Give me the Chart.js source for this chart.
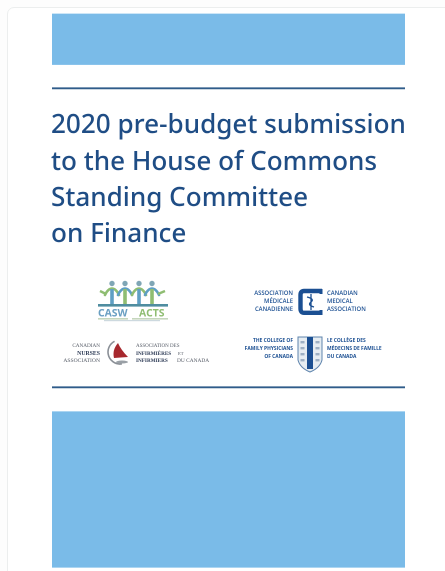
<!DOCTYPE html>
<html>
<head>
<meta charset="utf-8">
<style>
html,body{margin:0;padding:0;background:#fdfdfd;width:445px;height:571px;overflow:hidden}
#card{position:absolute;left:7px;top:7px;width:470px;height:600px;background:#fff;border:1.5px solid #eceeee;border-radius:7px;box-sizing:border-box}
#wrap{position:absolute;left:0;top:0;width:445px;height:571px}
canvas{filter:blur(0.45px)}
</style>
<script src="https://cdn.jsdelivr.net/npm/chart.js@4"></script>
</head>
<body>
<div id="card"></div>
<div id="wrap"><canvas id="c" width="445" height="571"></canvas></div>
<script>
const categories = ['Cover'];
const segmentNames = ['Top margin','Top band','Upper gap','Upper rule','Title and logos','Lower rule','Lower gap','Bottom band','Bottom margin'];
const segmentHeights = [14, 50.5, 23.2, 1.2, 297.8, 1.2, 23.8, 155.6, 3.7];
const segmentKinds = ['gap','band','gap','rule','gap','rule','gap','band','gap'];
const titleLines = ['2020 pre-budget submission','to the House of Commons','Standing Committee','on Finance'];
const cmaFr = ['ASSOCIATION','MÉDICALE','CANADIENNE'];
const cmaEn = ['CANADIAN','MEDICAL','ASSOCIATION'];
const cnaEn = ['CANADIAN','NURSES','ASSOCIATION'];
const cnaFr = ['ASSOCIATION DES','INFIRMIÈRES','INFIRMIERS'];
const cnaFrLight = ['ET','DU CANADA'];
const cfpcEn = ['THE COLLEGE OF','FAMILY PHYSICIANS','OF CANADA'];
const cfpcFr = ['LE COLLÈGE DES','MÉDECINS DE FAMILLE','DU CANADA'];
const caswLabels = ['CASW','ACTS'];
const colours = {band:'#7abbe8', rule:'#2f5c8a', gap:'rgba(0,0,0,0)'};

function textBlock(ctx, lines, x, ys, align, font, colour){
  ctx.textAlign = align; ctx.textBaseline = 'alphabetic';
  ctx.font = font; ctx.fillStyle = colour;
  lines.forEach((t,i)=>ctx.fillText(t,x,ys[i]));
}
function person(ctx,x,col,armCol){
  ctx.fillStyle = '#7fa6b5';
  ctx.beginPath(); ctx.arc(x,283.5,2.7,0,Math.PI*2); ctx.fill();
  ctx.strokeStyle = armCol; ctx.lineWidth = 2.6; ctx.lineCap='round';
  ctx.beginPath(); ctx.moveTo(x-7,295); ctx.quadraticCurveTo(x-4,288.5,x,288.5); ctx.quadraticCurveTo(x+4,288.5,x+7,295); ctx.stroke();
  ctx.strokeStyle = col; ctx.lineWidth = 3.6; ctx.lineCap='butt';
  ctx.beginPath(); ctx.moveTo(x,289); ctx.lineTo(x,304); ctx.stroke();
}
const coverArt = {
  id:'coverArt',
  afterDraw(chart){
    const ctx = chart.ctx; ctx.save();
    textBlock(ctx,titleLines,51,[133,170,206,242],'left','500 26.1px "Noto Sans"','#1f4d85');
    // CASW
    person(ctx,112,'#5f9fc4','#8fbd72'); person(ctx,125,'#8fbd72','#5f9fc4'); person(ctx,139,'#5f9fc4','#8fbd72'); person(ctx,152,'#8fbd72','#5f9fc4');
    ctx.strokeStyle='#8fbd72'; ctx.lineWidth=2.4;
    ctx.beginPath(); ctx.moveTo(100,291); ctx.lineTo(106,294); ctx.moveTo(165,291); ctx.lineTo(158,294); ctx.stroke();
    ctx.fillStyle='#4f8da0'; ctx.fillRect(98,304,70,2.6);
    textBlock(ctx,[caswLabels[0]],98,[316.5],'left','700 10.4px "Open Sans"','#6a9fc2');
    textBlock(ctx,[caswLabels[1]],139,[316.5],'left','700 10.4px "Open Sans"','#8fbd72');
    ctx.fillStyle='#c5d6bd'; ctx.fillRect(98,318,30,1.6); ctx.fillRect(132,318,36,1.6);
    ctx.fillStyle='#cdd9df'; ctx.fillRect(104,320,56,1.2);
    // CMA
    const navy='#1b4f92';
    textBlock(ctx,cmaFr,293,[295,303,311],'right','600 5.9px "Open Sans"',navy);
    textBlock(ctx,cmaEn,327,[295,303,311],'left','600 5.9px "Open Sans"',navy);
    ctx.strokeStyle=navy; ctx.lineWidth=4.4; ctx.lineCap='butt';
    ctx.beginPath(); ctx.moveTo(322,291); ctx.lineTo(304,291); ctx.quadraticCurveTo(300.5,291,300.5,295); ctx.lineTo(300.5,308.5);
    ctx.quadraticCurveTo(300.5,312.8,304,312.8); ctx.lineTo(322,312.8); ctx.stroke();
    ctx.fillStyle=navy; ctx.fillRect(319.5,289,3,5); ctx.fillRect(319.5,310,3,5);
    ctx.lineWidth=1.3;
    ctx.beginPath(); ctx.moveTo(311,294); ctx.lineTo(311,310); ctx.moveTo(307,297); ctx.quadraticCurveTo(315,299,311,302); ctx.quadraticCurveTo(307,305,314,307); ctx.stroke();
    // CNA
    textBlock(ctx,[cnaEn[0]],100,[347],'right','5.2px "Liberation Serif"','#555b66');
    textBlock(ctx,[cnaEn[1]],100,[355],'right','700 5.8px "Liberation Serif"','#2c3a55');
    textBlock(ctx,[cnaEn[2]],100,[362],'right','5.6px "Liberation Serif"','#555b66');
    textBlock(ctx,[cnaFr[0]],136,[347],'left','5px "Liberation Serif"','#555b66');
    textBlock(ctx,[cnaFr[1]],136,[355],'left','700 5.2px "Liberation Serif"','#2c3a55');
    textBlock(ctx,[cnaFr[2]],136,[362],'left','700 5.2px "Liberation Serif"','#2c3a55');
    textBlock(ctx,[cnaFrLight[0]],178,[355],'left','4.6px "Liberation Serif"','#555b66');
    textBlock(ctx,[cnaFrLight[1]],177,[362],'left','5.4px "Liberation Serif"','#555b66');
    ctx.strokeStyle='#8a8f96'; ctx.lineWidth=1.6;
    ctx.beginPath(); ctx.arc(120,352,12,Math.PI*0.45,Math.PI*1.35); ctx.stroke();
    ctx.fillStyle='#a7282e';
    ctx.beginPath(); ctx.moveTo(118,343); ctx.quadraticCurveTo(121,350,128,357); ctx.lineTo(114,358); ctx.quadraticCurveTo(112,350,118,343); ctx.fill();
    ctx.fillStyle='#9aa0a6'; ctx.beginPath(); ctx.ellipse(122,362,6,1.5,0,0,Math.PI*2); ctx.fill();
    // CFPC
    textBlock(ctx,cfpcEn,293,[342,350,358],'right','700 4.9px "Open Sans"',navy);
    textBlock(ctx,cfpcFr,327,[342,350,358],'left','700 4.9px "Open Sans"',navy);
    ctx.fillStyle='#e6edf2'; ctx.strokeStyle='#5f84ad'; ctx.lineWidth=1;
    ctx.beginPath(); ctx.moveTo(298,337); ctx.lineTo(322,337); ctx.lineTo(322,360); ctx.quadraticCurveTo(320,368,310,372); ctx.quadraticCurveTo(300,368,298,360); ctx.closePath(); ctx.fill(); ctx.stroke();
    ctx.fillStyle=navy; ctx.fillRect(307,337,6,32);
    ctx.fillStyle='#9db0c4';
    [341,347,353,359].forEach(y=>{ctx.fillRect(300.5,y,4,2.4);ctx.fillRect(315.5,y,4,2.4);});
    ctx.restore();
  }
};
new Chart(document.getElementById('c'),{
  type:'bar',
  plugins:[coverArt],
  data:{
    labels:categories,
    datasets:segmentNames.map((name,i)=>({
      label:name,
      data:[segmentHeights[i]],
      backgroundColor:colours[segmentKinds[i]],
      borderWidth:0,
      stack:'cover',
      barPercentage:1,
      categoryPercentage:1
    }))
  },
  options:{
    responsive:false,
    animation:false,
    devicePixelRatio:2,
    layout:{padding:{left:52,right:40,top:0,bottom:0}},
    plugins:{legend:{display:false},tooltip:{enabled:false},title:{display:false}},
    scales:{
      x:{display:false,stacked:true},
      y:{display:false,stacked:true,reverse:true,min:0,max:571}
    }
  }
});
</script>
</body>
</html>
